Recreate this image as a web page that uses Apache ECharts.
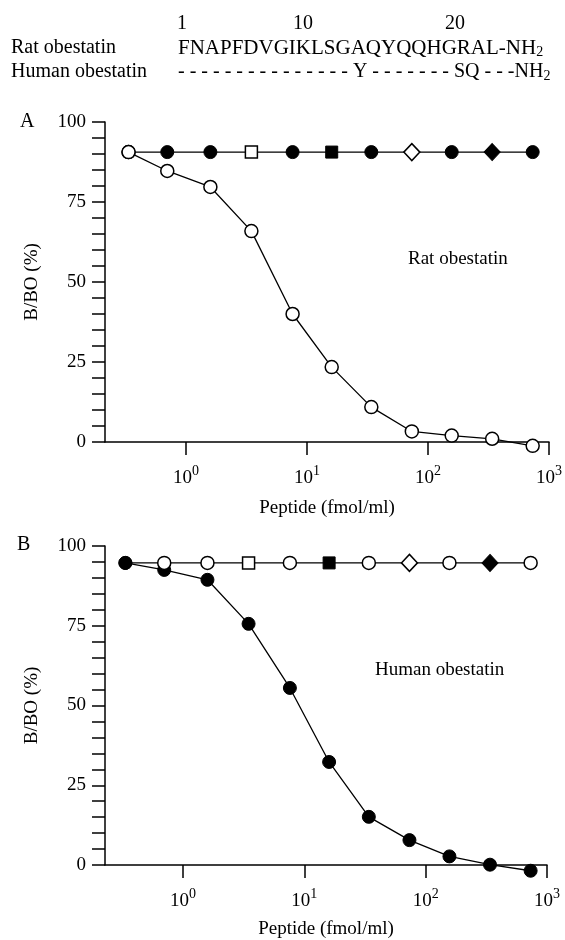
<!DOCTYPE html>
<html><head><meta charset="utf-8">
<script src="https://cdn.jsdelivr.net/npm/echarts@6/dist/echarts.min.js"></script>
<style>html,body{margin:0;padding:0;background:#fff}#c{width:565px;height:940px}</style>
</head><body><div id="c"></div>
<script>
// ---- data ----
const concentrations = [0.335, 0.70, 1.59, 3.47, 7.6, 16.0, 34.0, 73.5, 157, 339, 733]; // fmol/ml
const ratCurveA   = [90.6, 84.7, 79.7, 65.9, 40.0, 23.4, 10.9, 3.3, 2.0, 1.0, -1.2];
const crossRowA   = [90.6, 90.6, 90.6, 90.6, 90.6, 90.6, 90.6, 90.6, 90.6, 90.6, 90.6];
const symbolsRowA = ['circle-open','circle','circle','square-open','circle','square','circle','diamond-open','circle','diamond','circle'];
const humanCurveB = [94.7, 92.5, 89.4, 75.6, 55.5, 32.3, 15.1, 7.8, 2.7, 0.1, -1.8];
const crossRowB   = [94.7, 94.7, 94.7, 94.7, 94.7, 94.7, 94.7, 94.7, 94.7, 94.7, 94.7];
const symbolsRowB = ['circle','circle-open','circle-open','square-open','circle-open','square','circle-open','diamond-open','circle-open','diamond','circle-open'];
const xTickValues = [1, 10, 100, 1000];
const yTickLabels = [0, 25, 50, 75, 100];
const headerNumbers = ['1', '10', '20'];
const ratSequence = 'FNAPFDVGIKLSGAQYQQHGRAL-NH';
const humanSequence = '- - - - - - - - - - - - - - - Y - - - - - - - SQ - - -NH';

const FONT = 'Liberation Serif';
const chart = echarts.init(document.getElementById('c'), null, {renderer: 'canvas'});

function sym(name) {
  const open = name.endsWith('-open');
  const base = name.replace('-open', '');
  const size = base === 'circle' ? 13 : base === 'square' ? 12 : [16, 17];
  return {
    symbol: base === 'square' ? 'rect' : base,
    symbolSize: size,
    itemStyle: open ? {color: '#fff', borderColor: '#000', borderWidth: 1.5}
                    : {color: '#000', borderColor: '#000', borderWidth: 1}
  };
}
function rowData(vals, syms) {
  return vals.map((v, i) => Object.assign({value: [concentrations[i], v]}, sym(syms[i])));
}
function curveData(vals, s) {
  return vals.map((v, i) => Object.assign({value: [concentrations[i], v]}, sym(s)));
}

function xAxis(gridIndex, min) {
  return {
    type: 'log', logBase: 10, gridIndex, min, max: 1000,
    name: 'Peptide (fmol/ml)', nameLocation: 'middle', nameGap: gridIndex === 0 ? 57 : 55,
    nameTextStyle: {fontFamily: FONT, fontSize: 19, color: '#000', verticalAlign: 'top'},
    axisLine: {show: true, lineStyle: {color: '#000', width: 1.5}},
    axisTick: {show: true, length: 13, lineStyle: {color: '#000', width: 1.5}, customValues: xTickValues},
    minorTick: {show: false},
    splitLine: {show: false},
    axisLabel: {
      customValues: xTickValues, margin: 22, color: '#000',
      formatter: v => '{b|10}{s|' + Math.round(Math.log10(v)) + '}',
      rich: {
        b: {fontFamily: FONT, fontSize: 19, color: '#000'},
        s: {fontFamily: FONT, fontSize: 14, color: '#000', padding: [0, 0, 14, 0]}
      }
    }
  };
}
function yAxis(gridIndex) {
  return {
    type: 'value', gridIndex, min: 0, max: 100, interval: 25,
    name: 'B/BO (%)', nameLocation: 'middle', nameRotate: 90, nameGap: 63,
    nameTextStyle: {fontFamily: FONT, fontSize: 19, color: '#000'},
    axisLine: {show: true, lineStyle: {color: '#000', width: 1.5}},
    axisTick: {show: true, length: 13, lineStyle: {color: '#000', width: 1.5}},
    minorTick: {show: true, splitNumber: 5, length: 13, lineStyle: {color: '#000', width: 1.5}},
    splitLine: {show: false},
    axisLabel: {margin: 19, fontFamily: FONT, fontSize: 19, color: '#000',
      formatter: v => yTickLabels.includes(v) ? String(v) : ''}
  };
}

const lineStyle = {color: '#000', width: 1.3};
const txt = (x, y, text, size, align) => ({
  type: 'text', x, y, silent: true,
  style: {text, fill: '#000', font: size + 'px "' + FONT + '"', align: align || 'left', verticalAlign: 'middle'}
});
const richSeq = (x, y, text, size) => ({
  type: 'text', x, y, silent: true,
  style: {
    text: '{t|' + text + '}{s|2}', align: 'left', verticalAlign: 'middle',
    rich: {
      t: {fontFamily: FONT, fontSize: size, fill: '#000', color: '#000'},
      s: {fontFamily: FONT, fontSize: 14, fill: '#000', color: '#000', padding: [9, 0, 0, 0]}
    }
  }
});

chart.setOption({
  animation: false,
  backgroundColor: '#fff',
  grid: [
    {left: 105, top: 122, width: 444, height: 320},
    {left: 105, top: 546, width: 442, height: 320}
  ],
  xAxis: [xAxis(0, 0.214), xAxis(1, 0.2275)],
  yAxis: [yAxis(0), yAxis(1)],
  graphic: [
    txt(182, 24, headerNumbers[0], 20, 'center'),
    txt(303, 24, headerNumbers[1], 20, 'center'),
    txt(455, 24, headerNumbers[2], 20, 'center'),
    txt(11, 48, 'Rat obestatin', 20),
    txt(11, 72, 'Human obestatin', 20),
    richSeq(178, 48, ratSequence, 21),
    richSeq(178, 72, humanSequence, 20),
    txt(20, 122, 'A', 20),
    txt(17, 545, 'B', 20),
    txt(408, 259, 'Rat obestatin', 19),
    txt(375, 670, 'Human obestatin', 19)
  ],
  series: [
    {type: 'line', xAxisIndex: 0, yAxisIndex: 0, data: rowData(crossRowA, symbolsRowA),
     lineStyle, clip: false, z: 2},
    {type: 'line', xAxisIndex: 0, yAxisIndex: 0, data: curveData(ratCurveA, 'circle-open'),
     lineStyle, clip: false, z: 3},
    {type: 'line', xAxisIndex: 1, yAxisIndex: 1, data: curveData(humanCurveB, 'circle'),
     lineStyle, clip: false, z: 2},
    {type: 'line', xAxisIndex: 1, yAxisIndex: 1, data: rowData(crossRowB, symbolsRowB),
     lineStyle, clip: false, z: 3}
  ]
});
</script></body></html>
